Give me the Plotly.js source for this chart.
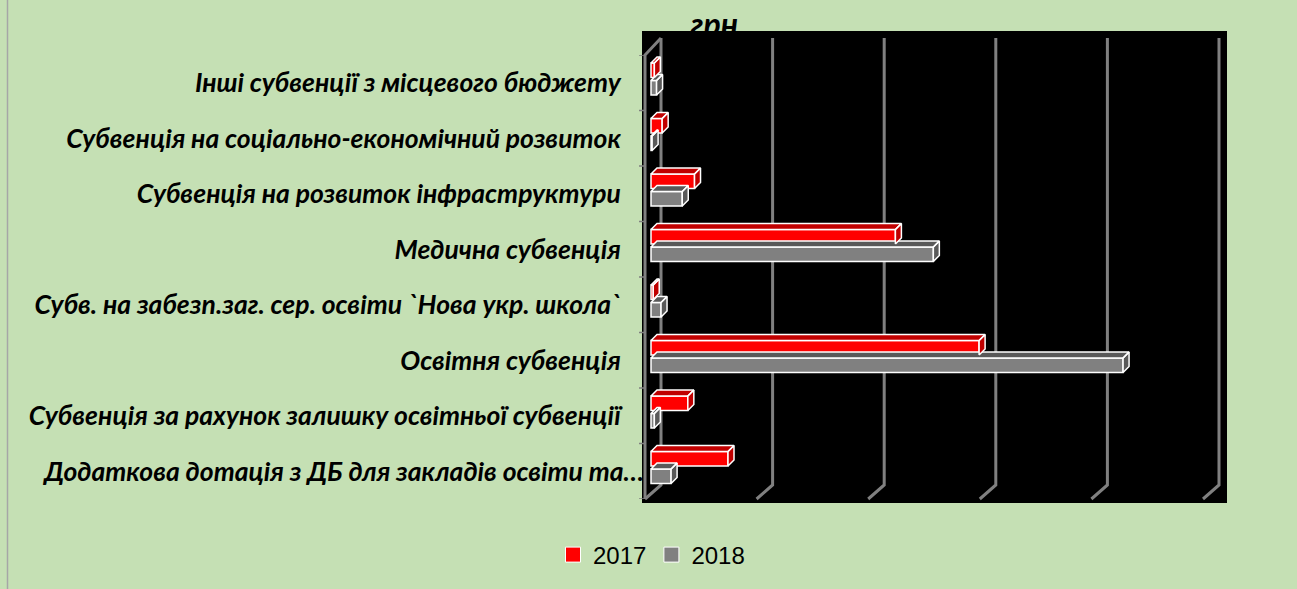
<!DOCTYPE html>
<html>
<head>
<meta charset="utf-8">
<script src="https://cdn.plot.ly/plotly-3.0.1.min.js"></script>
<style>
  html, body { margin: 0; padding: 0; background: #C5E0B4; }
  #chart { width: 1297px; height: 589px; }
</style>
</head>
<body>
<div id="chart"></div>
<script>
// categories, bottom to top (as Excel plots them)
const categories = [
  "Додаткова дотація з ДБ для закладів освіти та…",
  "Субвенція за рахунок залишку освітньої субвенції",
  "Освітня субвенція",
  "Субв. на забезп.заг. сер. освіти `Нова укр. школа`",
  "Медична субвенція",
  "Субвенція на розвиток інфраструктури",
  "Субвенція на соціально-економічний розвиток",
  "Інші субвенції з місцевого бюджету"
];
// тис. грн (the chart shows no value labels)
const values2017 = [6900, 3300, 29400, 200, 21900, 3900, 1000, 300];
const values2018 = [1800, 300, 42300, 900, 25300, 2800, 100, 500];
const seriesNames = ["2017", "2018"];

const STEP = 10000;          // one gridline
const PX_PER_STEP = 111.6;
const X0 = 651;              // pixel of value 0
const PLOT_L = 645, PLOT_R = 1209;
const PLOT_TOP = 55, PLOT_BOTTOM = 499;
const CAT_PX = (PLOT_BOTTOM - PLOT_TOP) / categories.length;

// pixel -> paper helpers for the 3D frame decoration
const px = x => (x - PLOT_L) / (PLOT_R - PLOT_L);
const py = y => (PLOT_BOTTOM - y) / (PLOT_BOTTOM - PLOT_TOP);
const xv = x => (x - X0) / PX_PER_STEP * STEP;

const pos = categories.map((c, i) => i);
const labels = categories.map(c => c.endsWith("…") ? c : c + "\u00a0\u00a0\u00a0\u00a0");

const BAR_W = 0.26;
const DY = 6 / CAT_PX;              // depth in category units
const DX = 6 / PX_PER_STEP * STEP;  // depth in value units

// top and side faces of the 3D boxes, one polygon per bar
function faces(vals, off, color) {
  const xs = [], ys = [];
  vals.forEach((v, i) => {
    const lo = pos[i] + off, hi = lo + BAR_W;
    // top
    xs.push(0, v, v + DX, DX, 0, null);
    ys.push(hi, hi, hi + DY, hi + DY, hi, null);
    // side
    xs.push(v, v + DX, v + DX, v, v, null);
    ys.push(lo, lo + DY, hi + DY, hi, lo, null);
  });
  return {
    type: "scatter", mode: "lines", x: xs, y: ys, fill: "toself",
    fillcolor: color, line: { color: "#FFFFFF", width: 1.5 },
    showlegend: false, hoverinfo: "skip"
  };
}
function front(vals, off, color) {
  return {
    type: "bar", orientation: "h", y: pos, x: vals,
    width: BAR_W, offset: off, showlegend: false,
    marker: { color: color, line: { color: "#FFFFFF", width: 1.5 } }
  };
}
function legendItem(name, color, rank) {
  return {
    type: "scatter", mode: "markers", x: [null], y: [null], name: name,
    legendrank: rank,
    marker: { symbol: "square", size: 15, color: color, line: { color: "#FFFFFF", width: 1 } }
  };
}

const OFF_2018 = -0.22, OFF_2017 = 0.095;
const data = [
  faces(values2018, OFF_2018, "#595959"),
  front(values2018, OFF_2018, "#808080"),
  faces(values2017, OFF_2017, "#C00000"),
  front(values2017, OFF_2017, "#FF0000"),
  legendItem(seriesNames[0], "#FF0000", 1),
  legendItem(seriesNames[1], "#808080", 2)
];

// frame: black plot area, 3D gridlines, left axis and category ticks
const shapes = [{
  type: "rect", xref: "paper", yref: "paper", layer: "below",
  x0: px(642), x1: px(1227), y0: py(503), y1: py(31),
  fillcolor: "#000000", line: { width: 0 }
}];
for (let k = 0; k <= 5; k++) {
  const back = 661 + PX_PER_STEP * k, fr = 645 + PX_PER_STEP * k;
  shapes.push({
    type: "path", xref: "paper", yref: "paper", layer: "below",
    path: `M${px(back)},${py(38)} L${px(back)},${py(485)} L${px(fr)},${py(499)}`,
    line: { color: "#808080", width: 3 }
  });
}
shapes.push({
  type: "path", xref: "paper", yref: "paper", layer: "below",
  path: `M${px(661)},${py(38)} L${px(645)},${py(55)} L${px(645)},${py(499)}`,
  line: { color: "#808080", width: 3 }
});
for (let i = 0; i <= categories.length; i++) {
  shapes.push({
    type: "line", xref: "paper", yref: "y", layer: "below",
    x0: px(639), x1: px(645), y0: i - 0.5, y1: i - 0.5,
    line: { color: "#808080", width: 1.5 }
  });
}
// chart area border on the left
shapes.push({
  type: "line", xref: "paper", yref: "paper",
  x0: px(7.5), x1: px(7.5), y0: py(589), y1: py(0),
  line: { color: "#A6A6A6", width: 1.5 }
});

const layout = {
  width: 1297, height: 589,
  paper_bgcolor: "#C5E0B4",
  plot_bgcolor: "rgba(0,0,0,0)",
  margin: { l: PLOT_L, r: 1297 - PLOT_R, t: PLOT_TOP, b: 589 - PLOT_BOTTOM },
  barmode: "overlay",
  title: {
    text: "грн.", x: 718 / 1297, xanchor: "center",
    y: 1 - 25 / 589, yanchor: "middle",
    font: { family: "Lato", size: 32, weight: "bold", style: "italic", color: "#000000" }
  },
  xaxis: {
    range: [xv(PLOT_L), xv(PLOT_R)], showgrid: false, zeroline: false,
    showticklabels: false, showline: false, fixedrange: true
  },
  yaxis: {
    range: [-0.5, categories.length - 0.5], showgrid: false, zeroline: false,
    showline: false,
    ticks: "", tickmode: "array", tickvals: pos, ticktext: labels,
    ticklabelstandoff: 0,
    tickfont: { family: "Lato", size: 26.5, weight: "bold", style: "italic", color: "#000000" },
    fixedrange: true
  },
  legend: {
    orientation: "h", x: px(553), xanchor: "left",
    y: py(555), yanchor: "middle",
    font: { family: "Liberation Sans", size: 24, color: "#000000" },
    bgcolor: "rgba(0,0,0,0)", itemwidth: 30
  },
  shapes: shapes,
  showlegend: true
};

Plotly.newPlot("chart", data, layout, { displayModeBar: false, staticPlot: true });
</script>
</body>
</html>
